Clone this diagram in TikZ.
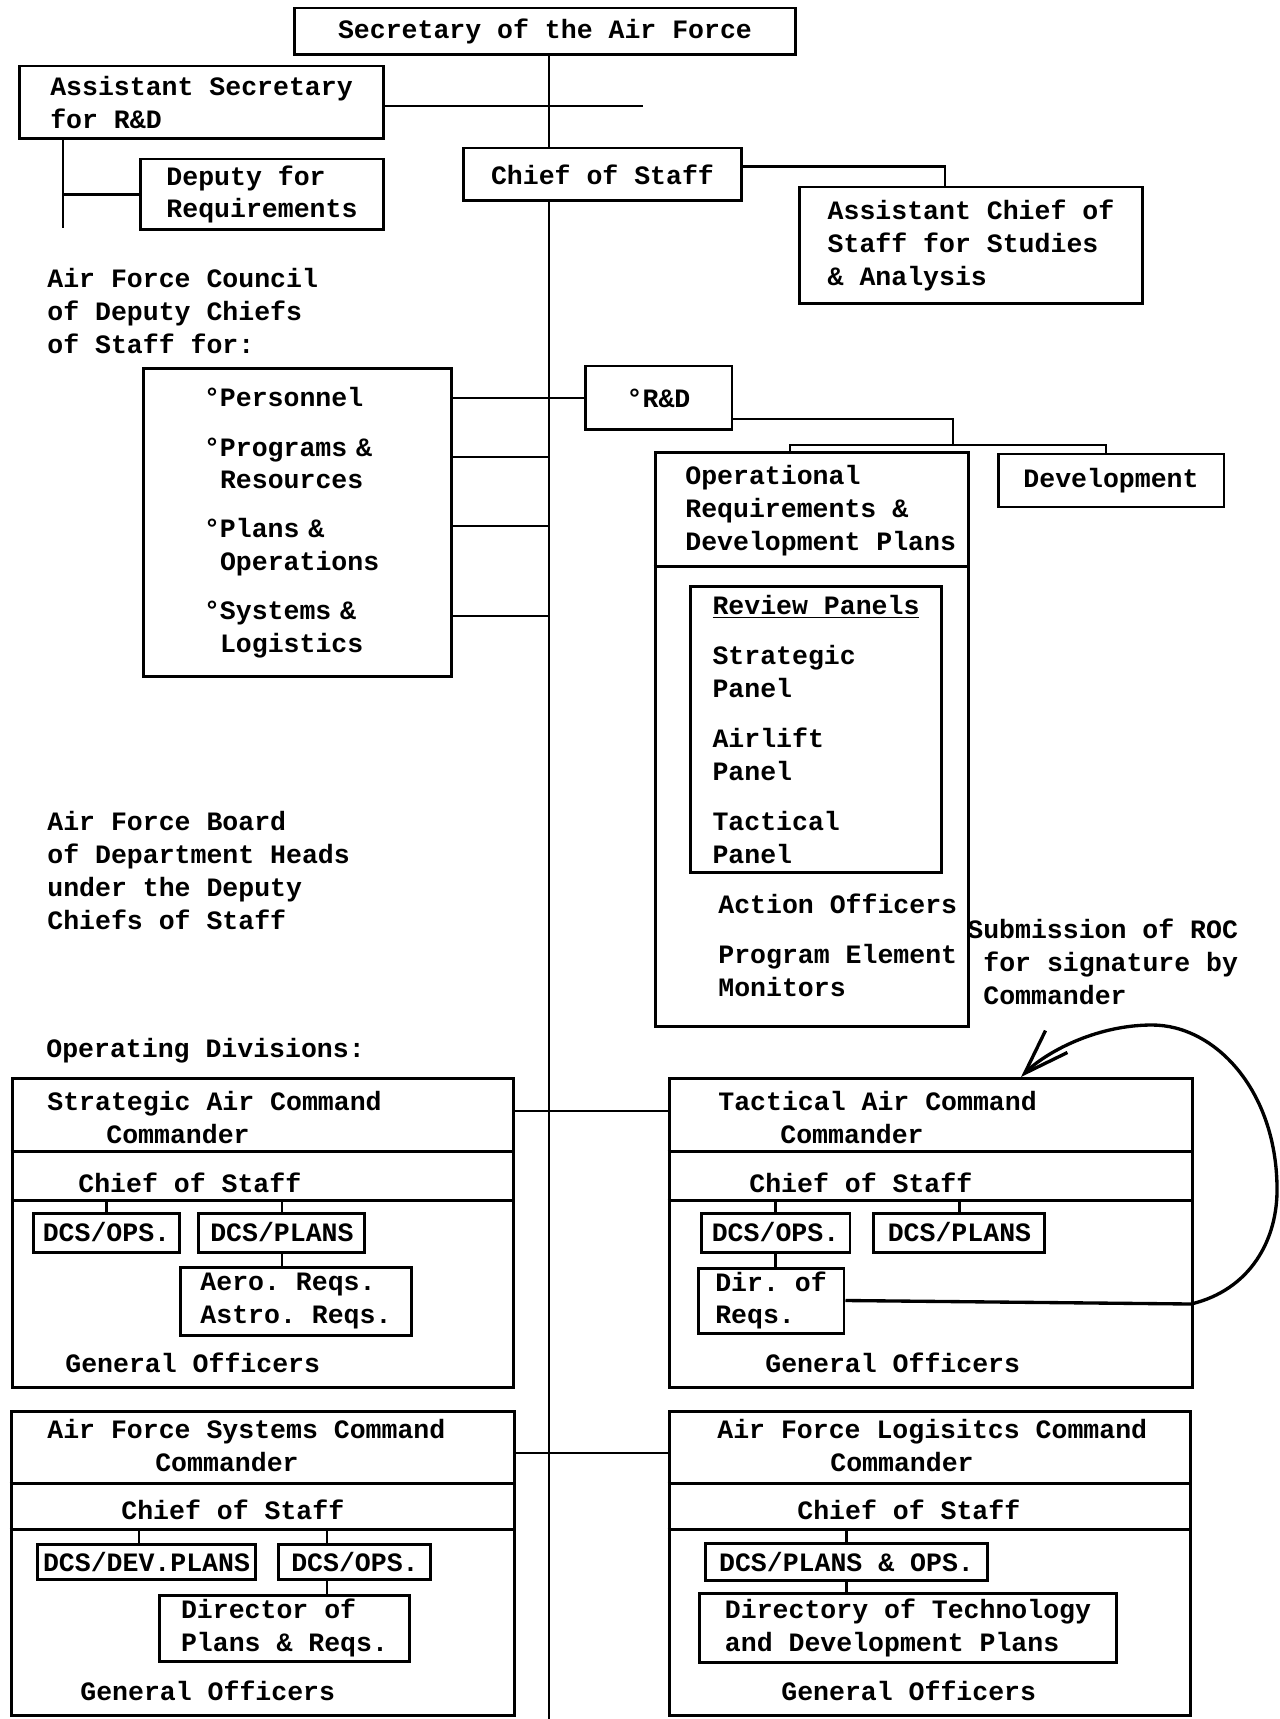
\documentclass[tikz,border=0pt]{standalone}
\usepackage{fontspec}
\setmainfont{Liberation Mono}
\usetikzlibrary{arrows.meta,positioning}

\newcommand{\chrsp}{\hspace*{0.32cm}}

\begin{document}
\begin{tikzpicture}[x=0.02cm,y=-0.02cm,node distance=0.32cm,
    font=\bfseries\frenchspacing\fontsize{15.1}{18.7}\selectfont,
    box/.style={rectangle,draw,line width=1.7pt,fill=white,align=left,inner sep=2pt},
    txt/.style={align=left,inner sep=0pt,anchor=west},
    link/.style={line width=1.5pt},
    trunk/.style={line width=1pt}]

      \useasboundingbox (0,0) rectangle (1279,1719);

      \node[box,minimum width=10.04cm,minimum height=0.94cm] (sec) at (545,31.5) {Secretary of the Air Force};
      \coordinate (trunkend) at (549,1719);
      \draw[trunk] (sec.south -| trunkend) -- (trunkend);

      \node[box,minimum width=7.3cm,minimum height=1.46cm] (asec) at (201.5,102.5) {Assistant Secretary\\for R\&D};
      \node[box,minimum width=4.88cm,minimum height=1.42cm] (dreq) at (262,194.5) {Deputy for\\Requirements};
      \node[box,minimum width=5.58cm,minimum height=1.06cm] (cos) at (602.5,174.5) {Chief of Staff};
      \node[box,minimum width=6.88cm,minimum height=2.34cm] (acs) at (971,245.5) {Assistant Chief of\\Staff for Studies\\\& Analysis};

      \coordinate (asecend) at (643,106);
      \coordinate (asecleg) at (63,228);
      \draw[link] (asec.east |- asecend) -- (asecend);
      \draw[link] (asec.south -| asecleg) -- (asecleg);
      \draw[link] (dreq.west) -- (dreq.west -| asecleg);
      \draw[link] ([yshift=0.16cm]cos.east) -| ([xshift=-0.52cm]acs.north);

      \node[txt] (cnclabel) at (47,311) {Air Force Council\\of Deputy Chiefs\\of Staff for:};
      \node[box,minimum width=6.18cm,minimum height=6.18cm,text width=3.74cm] (council) at (297.5,522.5) {°Personnel\\[0.34cm]°Programs \&\\\chrsp Resources\\[0.32cm]°Plans \&\\\chrsp Operations\\[0.32cm]°Systems \&\\\chrsp Logistics};
      \node[box,minimum width=2.94cm,minimum height=1.28cm] (rd) at (658.5,398) {°R\&D};

      \foreach \row/\yy in {prgrow/457,plnrow/526,sysrow/616} {
        \coordinate (\row) at (549,\yy);
        \draw[link] (council.east |- \row) -- (\row);
      }
      \draw[link] (council.east |- rd.west) -- (rd.west);

      \node[box,minimum width=6.28cm,minimum height=11.5cm] (opsreq) at (812,739.5) {};
      \draw[line width=1.7pt] ([yshift=-2.32cm]opsreq.north west) -- ([yshift=-2.32cm]opsreq.north east);
      \node[txt] (opshead) at (685,510.5) {Operational\\Requirements \&\\Development Plans};
      \node[box,minimum width=5.04cm,minimum height=5.74cm] (review) at (816,729.5) {\underline{Review Panels}\\[0.34cm]Strategic\\Panel\\[0.34cm]Airlift\\Panel\\[0.34cm]Tactical\\Panel};
      \node[txt] (officers) at (718,945) {Action Officers\\[0.34cm]Program Element\\Monitors};
      \node[box,minimum width=4.52cm,minimum height=1.06cm] (dev) at (1111,480.5) {Development};

      \coordinate (rdfork) at (953,445);
      \coordinate (forkl) at (790,445);
      \coordinate (forkr) at (1106,445);
      \draw[link] ([yshift=-0.42cm]rd.east) -| (rdfork);
      \draw[link] (opsreq.north -| forkl) -- (forkl) -- (forkr) -- (dev.north -| forkr);

      \node[txt] (roc) at (967,962) {Submission of ROC\\\chrsp for signature by\\\chrsp Commander};

      \node[txt] (board) at (47,870.5) {Air Force Board\\of Department Heads\\under the Deputy\\Chiefs of Staff};
      \node[txt] (opdiv) at (46,1051) {Operating Divisions:};

      \node[box,minimum width=10.04cm,minimum height=6.2cm] (sac) at (263,1233) {};
      \node[box,minimum width=10.48cm,minimum height=6.2cm] (tac) at (931,1233) {};
      \node[box,minimum width=10.08cm,minimum height=6.1cm] (afsc) at (263,1563.5) {};
      \node[box,minimum width=10.44cm,minimum height=6.1cm] (aflc) at (930,1563.5) {};

      \foreach \cmd in {sac,tac} {
        \draw[line width=1.7pt] ([yshift=-1.5cm]\cmd.north west) -- ([yshift=-1.5cm]\cmd.north east);
        \draw[line width=1.7pt] ([yshift=-2.48cm]\cmd.north west) -- ([yshift=-2.48cm]\cmd.north east);
        \coordinate (\cmd div) at ([yshift=-2.48cm]\cmd.north);
      }
      \foreach \cmd in {afsc,aflc} {
        \draw[line width=1.7pt] ([yshift=-1.48cm]\cmd.north west) -- ([yshift=-1.48cm]\cmd.north east);
        \draw[line width=1.7pt] ([yshift=-2.4cm]\cmd.north west) -- ([yshift=-2.4cm]\cmd.north east);
        \coordinate (\cmd div) at ([yshift=-2.4cm]\cmd.north);
      }

      \coordinate (sacjoin) at (549,1111);
      \draw[link] (sac.east |- sacjoin) -- (tac.west |- sacjoin);
      \coordinate (afscjoin) at (549,1453);
      \draw[link] (afsc.east |- afscjoin) -- (aflc.west |- afscjoin);

      \node[txt] (sactitle) at (47,1117.5) {Strategic Air Command\\\hspace*{1.18cm}Commander};
      \node[txt] (saccos) at (78,1183) {Chief of Staff};
      \node[txt] (sacgen) at (65,1363) {General Officers};
      \node[box,minimum width=2.94cm,minimum height=0.78cm] (sacops) at (106.5,1232.5) {DCS/OPS.};
      \node[box,minimum width=3.32cm,minimum height=0.78cm,right=0.32cm of sacops] (sacplans) {DCS/PLANS};
      \node[box,minimum width=4.64cm,minimum height=1.36cm] (sacaero) at (296,1301) {Aero. Reqs.\\Astro. Reqs.};
      \draw[link] (sacops.north) -- (sacops.north |- sacdiv);
      \draw[link] (sacplans.north) -- (sacplans.north |- sacdiv);
      \draw[link] (sacplans.south) -- (sacplans.south |- sacaero.north);

      \node[txt] (tactitle) at (718,1117.5) {Tactical Air Command\\\hspace*{1.24cm}Commander};
      \node[txt] (taccos) at (749,1183) {Chief of Staff};
      \node[txt] (tacgen) at (765,1363) {General Officers};
      \node[box,minimum width=2.98cm,minimum height=0.78cm] (tacops) at (775.5,1232.5) {DCS/OPS.};
      \node[box,minimum width=3.42cm,minimum height=0.78cm,right=0.42cm of tacops] (tacplans) {DCS/PLANS};
      \node[box,minimum width=2.92cm,minimum height=1.3cm] (tacdir) at (771,1300.5) {Dir. of\\Reqs.};
      \draw[link] (tacops.north) -- (tacops.north |- tacdiv);
      \draw[link] (tacplans.north) -- (tacplans.north |- tacdiv);
      \draw[link] (tacops.south) -- (tacops.south |- tacdir.north);

      \coordinate (rocend) at (1021,1077);
      \draw[line width=1.9pt,-{Straight Barb[length=0.9cm,width=0.62cm]}] (tacdir.east) -- (1191,1304) .. controls (1250,1290) and (1278,1240) .. (1277,1187) .. controls (1276,1090) and (1215,1025) .. (1152,1025) .. controls (1095,1025) and (1045,1053) .. (rocend);

      \node[txt] (afsctitle) at (47,1445.5) {Air Force Systems Command\\\hspace*{2.16cm}Commander};
      \node[txt] (afsccos) at (121,1510) {Chief of Staff};
      \node[txt] (afscgen) at (80,1691) {General Officers};
      \node[box,minimum width=4.38cm,minimum height=0.7cm] (afscdev) at (146.5,1561.5) {DCS/DEV.PLANS};
      \node[box,minimum width=3.04cm,minimum height=0.7cm,right=0.4cm of afscdev] (afscops) {DCS/OPS.};
      \node[box,minimum width=5.02cm,minimum height=1.32cm] (afscdir) at (284.5,1628) {Director of\\Plans \& Reqs.};
      \coordinate (afscdevleg) at ([xshift=-0.15cm]afscdev.north);
      \coordinate (afscopsleg) at ([xshift=-0.56cm]afscops.south);
      \draw[link] (afscdevleg) -- (afscdevleg |- afscdiv);
      \draw[link] (afscopsleg |- afscops.north) -- (afscopsleg |- afscdiv);
      \draw[link] (afscopsleg) -- (afscopsleg |- afscdir.north);

      \node[txt] (aflctitle) at (717,1445.5) {Air Force Logisitcs Command\\\hspace*{2.26cm}Commander};
      \node[txt] (aflccos) at (797,1510) {Chief of Staff};
      \node[txt] (aflcgen) at (781,1691) {General Officers};
      \node[box,minimum width=5.66cm,minimum height=0.74cm] (aflcops) at (846.5,1561.5) {DCS/PLANS \& OPS.};
      \node[box,minimum width=8.36cm,minimum height=1.38cm] (aflcdir) at (908,1627.5) {Directory of Technology\\and Development Plans};
      \draw[link] (aflcops.north) -- (aflcops.north |- aflcdiv);
      \draw[link] (aflcops.south) -- (aflcops.south |- aflcdir.north);
    \end{tikzpicture}
\end{document}
